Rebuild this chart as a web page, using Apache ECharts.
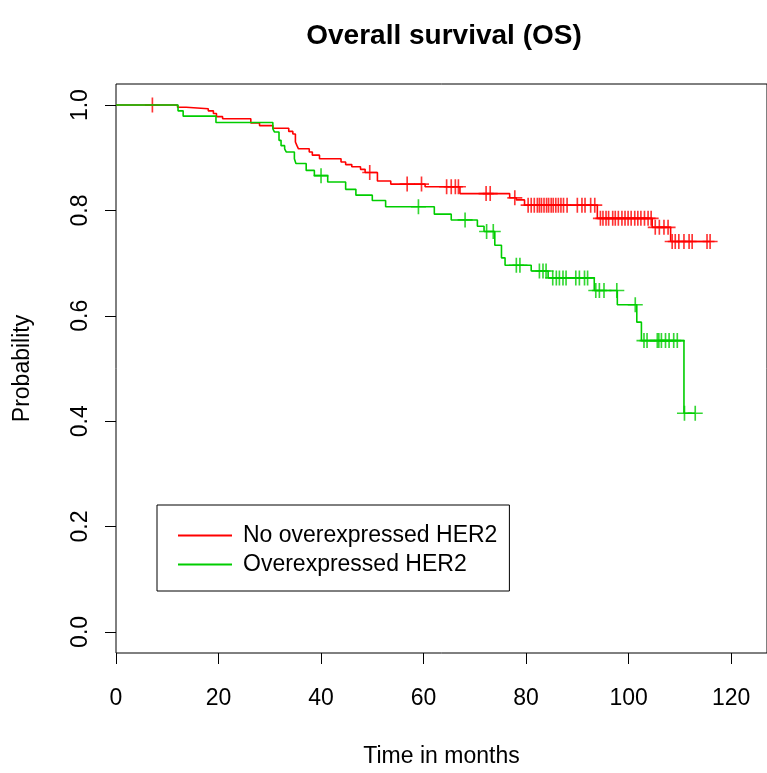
<!DOCTYPE html>
<html>
<head>
<meta charset="utf-8">
<title>Overall survival (OS)</title>
<script src="https://cdn.jsdelivr.net/npm/echarts@6/dist/echarts.min.js"></script>
<style>
  html, body { margin: 0; padding: 0; background: #fff; }
  #chart { width: 767px; height: 773px; }
</style>
</head>
<body>
<div id="chart"></div>
<script>
// Kaplan-Meier estimates: event times (months) and survival after each event
const redEventTimes = [12.0, 13.7, 18.0, 19.0, 19.6, 20.8, 26.3, 28.0, 30.6, 33.7, 34.5, 35.0, 35.3, 35.6, 37.7, 38.3, 39.7, 43.9, 44.8, 46.0, 47.7, 48.6, 51.0, 53.6, 60.3, 67.1, 76.8, 78.1, 79.7, 93.9, 104.6, 108.2];
const redSurvival   = [0.996, 0.993, 0.989, 0.984, 0.978, 0.974, 0.966, 0.961, 0.956, 0.950, 0.945, 0.930, 0.923, 0.917, 0.911, 0.905, 0.898, 0.892, 0.887, 0.883, 0.878, 0.872, 0.856, 0.850, 0.845, 0.832, 0.824, 0.820, 0.810, 0.785, 0.768, 0.741];
const redCensored   = [7.1, 49.5, 56.8, 59.6, 64.5, 65.4, 66.2, 66.8, 72.2, 73.0, 77.8, 80.4, 81.0, 81.6, 82.2, 82.6, 83.0, 83.5, 84.0, 84.4, 84.9, 85.3, 85.8, 86.3, 86.8, 87.3, 88.0, 90.0, 90.9, 91.5, 92.6, 93.4, 94.5, 95.0, 95.6, 96.1, 96.9, 97.4, 98.0, 98.7, 99.3, 99.9, 100.5, 101.2, 101.8, 102.4, 103.1, 103.8, 104.4, 105.2, 106.0, 106.9, 107.7, 108.5, 109.1, 109.8, 110.8, 111.8, 112.4, 115.3, 115.9];

const greenEventTimes = [12.1, 13.1, 19.5, 30.6, 30.9, 31.8, 32.2, 32.9, 33.2, 34.8, 35.1, 37.1, 38.7, 41.3, 44.8, 46.8, 50.0, 52.6, 62.1, 65.4, 70.5, 71.8, 73.9, 75.2, 75.9, 81.0, 84.3, 93.3, 97.8, 101.6, 102.5, 110.8];
const greenSurvival   = [0.989, 0.979, 0.967, 0.955, 0.949, 0.933, 0.923, 0.917, 0.911, 0.898, 0.889, 0.876, 0.866, 0.854, 0.840, 0.829, 0.819, 0.807, 0.793, 0.782, 0.770, 0.760, 0.734, 0.710, 0.696, 0.685, 0.672, 0.648, 0.621, 0.588, 0.553, 0.415];
const greenCensored   = [40.0, 59.0, 68.1, 72.3, 73.6, 78.1, 78.8, 82.6, 83.3, 83.9, 85.2, 85.9, 86.5, 87.2, 87.8, 89.7, 90.4, 91.4, 92.0, 93.6, 94.3, 95.2, 97.7, 101.3, 103.0, 103.6, 105.6, 105.9, 106.4, 107.2, 107.9, 108.8, 109.5, 110.9, 113.0];

const groupNames = ['No overexpressed HER2', 'Overexpressed HER2'];
const xTickValues = [0, 20, 40, 60, 80, 100, 120];
const yTickValues = [0, 0.2, 0.4, 0.6, 0.8, 1.0];

const RED = '#ff0000';
const GREEN = '#00cd00';
const FONT = "'Liberation Sans', Arial, Helvetica, sans-serif";

// survival level in effect at time t
function survivalAt(times, surv, t) {
  let s = 1;
  for (let i = 0; i < times.length; i++) {
    if (times[i] <= t) s = surv[i]; else break;
  }
  return s;
}

// step curve: start at (0,1), one point per event, end at the last follow-up time
function stepCurve(times, surv, censored) {
  const pts = [[0, 1]];
  for (let i = 0; i < times.length; i++) pts.push([times[i], surv[i]]);
  const lastT = Math.max(times[times.length - 1], censored[censored.length - 1]);
  pts.push([lastT, survivalAt(times, surv, lastT)]);
  return pts;
}

function censorMarks(times, surv, censored) {
  return censored.map(t => [t, survivalAt(times, surv, t)]);
}

const PLUS = 'path://M-0.11,-1H0.11V-0.11H1V0.11H0.11V1H-0.11V0.11H-1V-0.11H-0.11Z';

const chart = echarts.init(document.getElementById('chart'), null, { renderer: 'canvas' });

chart.setOption({
  animation: false,
  backgroundColor: '#ffffff',
  title: {
    text: 'Overall survival (OS)',
    left: 439,
    top: 17,
    textAlign: 'center',
    textStyle: { fontFamily: FONT, fontSize: 28, fontWeight: 'bold', color: '#000' }
  },
  legend: {
    data: groupNames,
    orient: 'vertical',
    left: 157,
    top: 505,
    padding: [19, 12, 15, 21],
    icon: 'rect',
    itemWidth: 54,
    itemHeight: 2,
    itemGap: 6,
    borderColor: '#000',
    borderWidth: 1,
    backgroundColor: '#fff',
    selectedMode: false,
    textStyle: { fontFamily: FONT, fontSize: 23, lineHeight: 23, color: '#000', padding: [0, 0, 0, 6] }
  },
  grid: {
    left: 116,
    top: 84,
    width: 654,
    height: 581,
    show: true,
    borderColor: '#000',
    borderWidth: 1,
    backgroundColor: 'transparent'
  },
  xAxis: {
    type: 'value',
    min: 0,
    max: 127,
    name: 'Time in months',
    nameLocation: 'middle',
    nameGap: 92,
    nameTextStyle: { fontFamily: FONT, fontSize: 23, color: '#000' },
    axisLine: { show: false, onZero: false },
    splitLine: { show: false },
    axisTick: { show: true, inside: false, length: 11, customValues: xTickValues, lineStyle: { color: '#000', width: 1 } },
    axisLabel: { customValues: xTickValues, margin: 34, fontFamily: FONT, fontSize: 23, color: '#000' }
  },
  yAxis: {
    type: 'value',
    min: -0.04,
    max: 1.04,
    name: 'Probability',
    nameLocation: 'middle',
    nameRotate: 90,
    nameGap: 82,
    nameTextStyle: { fontFamily: FONT, fontSize: 23, color: '#000' },
    axisLine: { show: false, onZero: false },
    splitLine: { show: false },
    axisTick: { show: true, inside: false, length: 11, customValues: yTickValues, lineStyle: { color: '#000', width: 1 } },
    axisLabel: {
      customValues: yTickValues,
      rotate: 90,
      margin: 24,
      fontFamily: FONT, fontSize: 23, color: '#000',
      formatter: v => v.toFixed(1)
    }
  },
  series: [
    {
      name: groupNames[0],
      type: 'line',
      step: 'end',
      symbol: 'none',
      color: RED,
      lineStyle: { color: RED, width: 1.6 },
      data: stepCurve(redEventTimes, redSurvival, redCensored),
      z: 2
    },
    {
      name: groupNames[0] + ' censored',
      type: 'scatter',
      symbol: PLUS,
      symbolSize: 15,
      itemStyle: { color: RED },
      data: censorMarks(redEventTimes, redSurvival, redCensored),
      z: 2
    },
    {
      name: groupNames[1],
      type: 'line',
      step: 'end',
      symbol: 'none',
      color: GREEN,
      lineStyle: { color: GREEN, width: 1.6 },
      data: stepCurve(greenEventTimes, greenSurvival, greenCensored),
      z: 3
    },
    {
      name: groupNames[1] + ' censored',
      type: 'scatter',
      symbol: PLUS,
      symbolSize: 15,
      itemStyle: { color: GREEN },
      data: censorMarks(greenEventTimes, greenSurvival, greenCensored),
      z: 3
    }
  ]
});
</script>
</body>
</html>
